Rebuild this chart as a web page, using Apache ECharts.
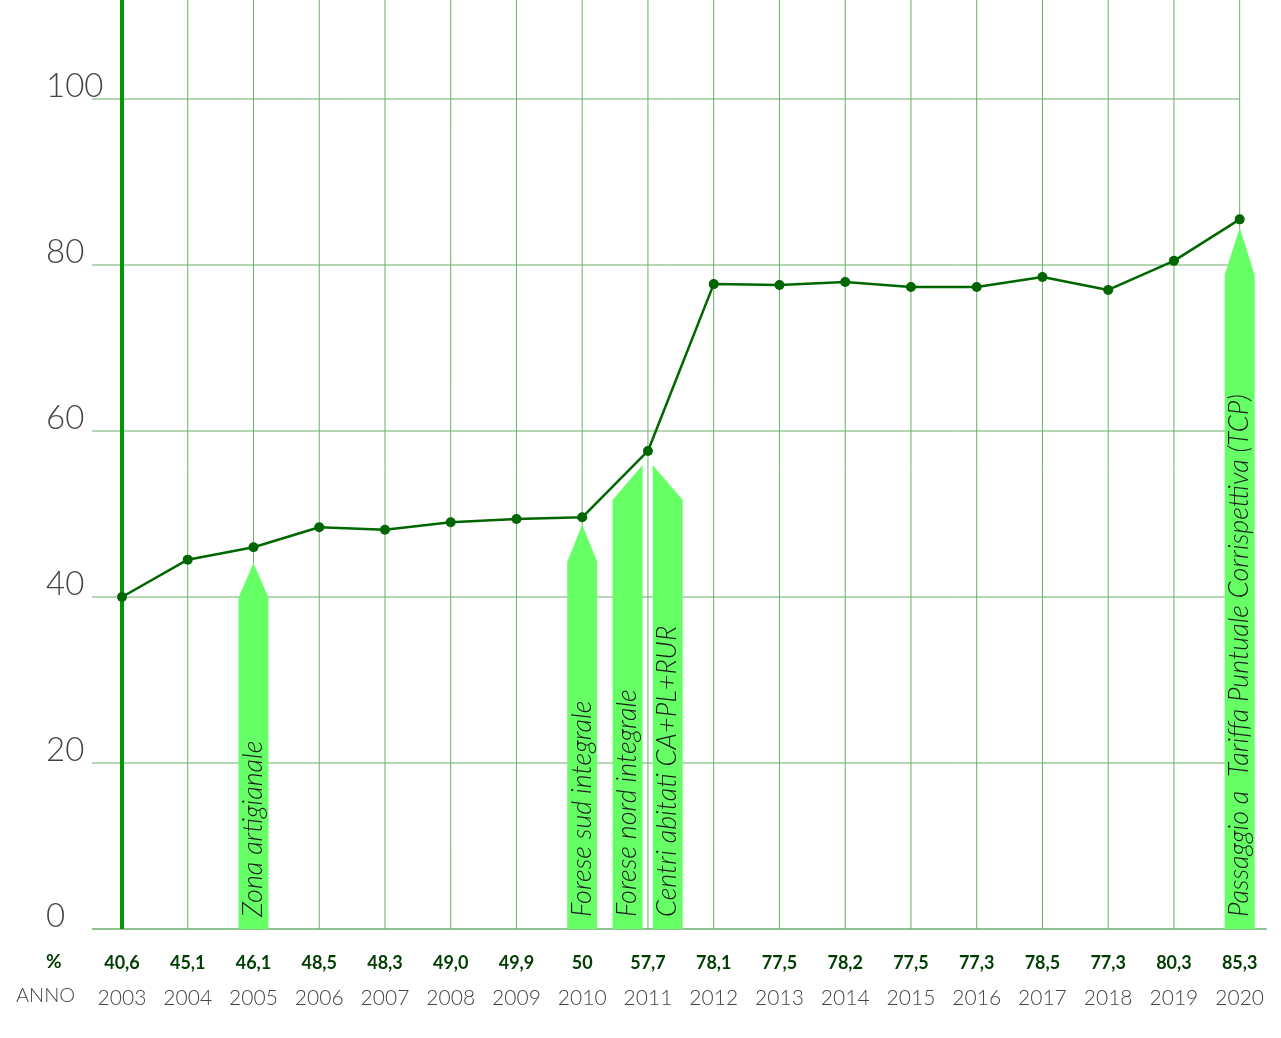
<!DOCTYPE html>
<html>
<head>
<meta charset="utf-8">
<script src="https://cdn.jsdelivr.net/npm/echarts@6/dist/echarts.min.js"></script>
<style>
  html, body { margin: 0; padding: 0; background: #fff; }
  #main { width: 1281px; height: 1038px; }
</style>
</head>
<body>
<div id="main"></div>
<script>
// anni e percentuale di raccolta differenziata
var anni = [2003, 2004, 2005, 2006, 2007, 2008, 2009, 2010, 2011, 2012, 2013, 2014, 2015, 2016, 2017, 2018, 2019, 2020];
// valori come disegnati nel grafico
var valori = [40.0, 44.5, 46.0, 48.4, 48.1, 49.0, 49.4, 49.6, 57.6, 77.7, 77.6, 77.95, 77.35, 77.35, 78.55, 77.0, 80.5, 85.5];
// valori scritti sotto l'asse
var etichette = ['40,6', '45,1', '46,1', '48,5', '48,3', '49,0', '49,9', '50', '57,7', '78,1', '77,5', '78,2', '77,5', '77,3', '78,5', '77,3', '80,3', '85,3'];
// righe orizzontali
var yTicks = [0, 20, 40, 60, 80, 100];

// frecce: posizione, punta, spalla, forma, testo
var frecceX = [2005, 2010, 2010.69, 2011.3, 2020];
var frecceCima = [44.1, 48.7, 55.9, 55.9, 84.5];
var frecceSpalla = [39.9, 44.25, 51.7, 51.7, 78.8];
var frecceForma = ['both', 'both', 'right', 'left', 'both'];
var frecceTesto = [
  'Zona artigianale',
  'Forese sud integrale',
  'Forese nord integrale',
  'Centri abitati CA+PL+RUR',
  'Passaggio a  Tariffa Puntuale Corrispettiva (TCP)'
];

var xMin = 2002.544, xMax = 2020.02, yMax = 111.93;

var chart = echarts.init(document.getElementById('main'), null, { renderer: 'canvas' });

var verde = '#006600';
var griglia = '#6cae6c';

//griglia: linee verticali per ogni anno e orizzontali ogni 20
var renderVerticale = function(params, api){
  var x = api.value(0);
  var a = api.coord([x, 0]);
  var b = api.coord([x, yMax]);
  var spessa = params.dataIndex === 0;
  return {
    type: 'line',
    shape: { x1: a[0], y1: a[1], x2: b[0], y2: b[1] },
    style: { stroke: spessa ? '#009900' : griglia, lineWidth: spessa ? 4 : 1 }
  };
};
var renderOrizzontale = function(params, api){
  var v = api.value(0);
  var a = api.coord([xMin, v]);
  var b = api.coord([anni[anni.length - 1], v]);
  var fine = v === 0 ? b[0] + 27 : b[0];
  return {
    type: 'line',
    shape: { x1: a[0], y1: a[1], x2: fine, y2: b[1] },
    style: { stroke: griglia, lineWidth: v === 0 ? 1.5 : 1 }
  };
};

//frecce verdi con testo ruotato
var renderFreccia = function(params, api){
  var i = params.dataIndex;
  var x = api.value(0);
  var base = api.coord([x, 0]);
  var cima = api.coord([x, api.value(1)]);
  var spalla = api.coord([x, api.value(2)]);
  var cx = base[0], h = 15;
  var forma = frecceForma[i];
  var pts;
  if(forma === 'right'){
    pts = [[cx - h, base[1]], [cx - h, spalla[1]], [cx + h, cima[1]], [cx + h, base[1]]];
  }else if(forma === 'left'){
    pts = [[cx - h, base[1]], [cx - h, cima[1]], [cx + h, spalla[1]], [cx + h, base[1]]];
  }else{
    pts = [[cx - h, base[1]], [cx - h, spalla[1]], [cx, cima[1]], [cx + h, spalla[1]], [cx + h, base[1]]];
  }
  return {
    type: 'group',
    children: [{
      type: 'polygon',
      shape: { points: pts },
      style: { fill: '#66ff66' }
    }, {
      type: 'text',
      x: cx,
      y: base[1] - 12,
      rotation: Math.PI / 2,
      style: {
        text: frecceTesto[i],
        fontFamily: 'Lato',
        fontStyle: 'italic',
        fontWeight: 300,
        fontSize: 27,
        fill: '#1a1a1a',
        align: 'left',
        verticalAlign: 'middle'
      }
    }]
  };
};

//etichette sotto l'asse: percentuale e anno
var renderEtichetta = function(params, api){
  var i = params.dataIndex;
  var p = api.coord([api.value(0), 0]);
  return {
    type: 'group',
    children: [{
      type: 'text',
      x: p[0], y: p[1] + 34,
      style: {
        text: etichette[i], fontFamily: 'Lato', fontWeight: 'bold', fontSize: 18,
        fill: '#003d00', align: 'center', verticalAlign: 'middle'
      }
    }, {
      type: 'text',
      x: p[0], y: p[1] + 69,
      style: {
        text: String(anni[i]), fontFamily: 'Lato', fontWeight: 300, fontSize: 21,
        fill: '#444', align: 'center', verticalAlign: 'middle'
      }
    }]
  };
};

var option = {
  animation: false,
  backgroundColor: '#fff',
  grid: { left: 92, right: 40, top: 0, bottom: 109, containLabel: false },
  xAxis: {
    type: 'value',
    min: xMin,
    max: xMax,
    show: false,
    splitLine: { show: false }
  },
  yAxis: {
    type: 'value',
    min: 0,
    max: yMax,
    interval: 20,
    axisLine: { show: false },
    axisTick: { show: false },
    splitLine: { show: false },
    axisLabel: {
      margin: 46,
      align: 'left',
      verticalAlign: 'bottom',
      lineHeight: 25,
      fontFamily: 'Lato',
      fontWeight: 300,
      fontSize: 33,
      color: '#444',
      formatter: function(v){ return v <= 100 ? String(v) : ''; }
    }
  },
  graphic: [{
    type: 'text', left: 46, top: 952,
    style: { text: '%', fontFamily: 'Lato', fontWeight: 'bold', fontSize: 19, fill: '#003d00' }
  }, {
    type: 'text', left: 16, top: 986,
    style: { text: 'ANNO', fontFamily: 'Lato', fontWeight: 300, fontSize: 20, fill: '#444' }
  }],
  series: [{
    type: 'custom',
    z: 1,
    silent: true,
    renderItem: renderOrizzontale,
    data: yTicks.map(function(v){ return [v]; })
  }, {
    type: 'custom',
    z: 1,
    silent: true,
    renderItem: renderVerticale,
    data: anni.map(function(a){ return [a]; })
  }, {
    type: 'custom',
    z: 3,
    silent: true,
    renderItem: renderFreccia,
    data: frecceX.map(function(x, i){ return [x, frecceCima[i], frecceSpalla[i]]; })
  }, {
    type: 'custom',
    z: 3,
    silent: true,
    renderItem: renderEtichetta,
    clip: false,
    data: anni.map(function(a, i){ return [a, i]; })
  }, {
    type: 'line',
    z: 5,
    data: anni.map(function(a, i){ return [a, valori[i]]; }),
    symbol: 'circle',
    symbolSize: 10,
    itemStyle: { color: verde },
    lineStyle: { color: verde, width: 2.5 }
  }]
};

chart.setOption(option);
</script>
</body>
</html>
